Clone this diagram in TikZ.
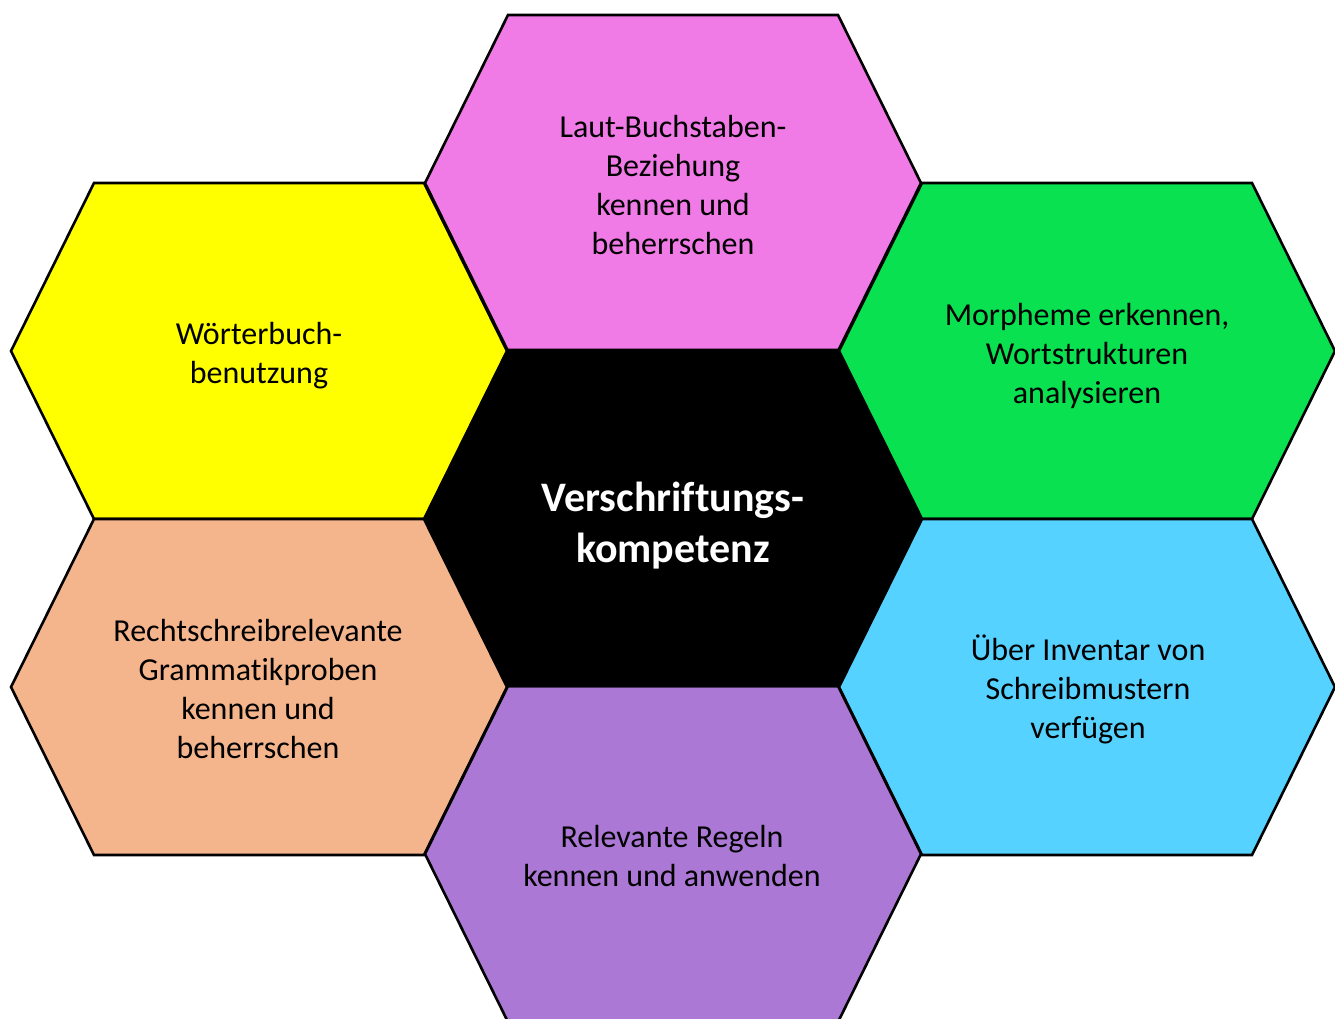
\documentclass[tikz,border=0pt]{standalone}
\usepackage{fontspec}
\setmainfont{Carlito}[Ligatures=NoCommon]
\definecolor{hpink}{RGB}{240,122,230}
\definecolor{hyellow}{RGB}{255,255,0}
\definecolor{hgreen}{RGB}{10,225,80}
\definecolor{hblue}{RGB}{85,210,255}
\definecolor{horange}{RGB}{244,181,141}
\definecolor{hpurple}{RGB}{172,120,213}
\newcommand{\hexcell}[3]{%
  \fill[#3] (#1) ++(-248,0) -- ++(83,-168) -- ++(330,0) -- ++(83,168) -- ++(-83,168) -- ++(-330,0) -- cycle;
  \draw[hexline] (#1) ++(-248,0) -- ++(83,-168) -- ++(330,0) -- ++(83,168) -- ++(-83,168) -- ++(-330,0) -- cycle;
  \coordinate (#2) at (#1);
}
\begin{document}
\begin{tikzpicture}[x=1pt,y=-1pt,
  hexline/.style={draw=black,line width=2.6pt,line join=miter},
  lbl/.style={align=center,font=\fontsize{32}{39}\selectfont,text=black},
  clbl/.style={align=center,font=\fontsize{42}{51}\selectfont\bfseries,text=white}]
\useasboundingbox (0,0) rectangle (1335,1018);
\clip (0,0) rectangle (1335,1018);
\hexcell{673,183}{ctop}{hpink}
\hexcell{259,351}{cyel}{hyellow}
\hexcell{1087,351}{cgrn}{hgreen}
\hexcell{259,687}{cora}{horange}
\hexcell{1087,687}{cblu}{hblue}
\hexcell{673,854}{cpur}{hpurple}
\hexcell{673,518}{cmid}{black}
\node[lbl] (ttop) at (673,185) {Laut-Buchstaben-\\Beziehung\\kennen und\\beherrschen};
\node[lbl] (tyel) at (259,356) {Wörterbuch-\\benutzung};
\node[lbl] (tgrn) at (1087,356) {Morpheme erkennen,\\Wortstrukturen\\analysieren};
\node[lbl] (tora) at (258,689) {Rechtschreibrelevante\\Grammatikproben\\kennen und\\beherrschen};
\node[lbl] (tblu) at (1088,689) {Über Inventar von\\Schreibmustern\\verfügen};
\node[lbl] (tpur) at (672,856) {Relevante Regeln\\kennen und anwenden};
\node[clbl] (tmid) at (673,526) {Verschriftungs-\\kompetenz};
\end{tikzpicture}
\end{document}
